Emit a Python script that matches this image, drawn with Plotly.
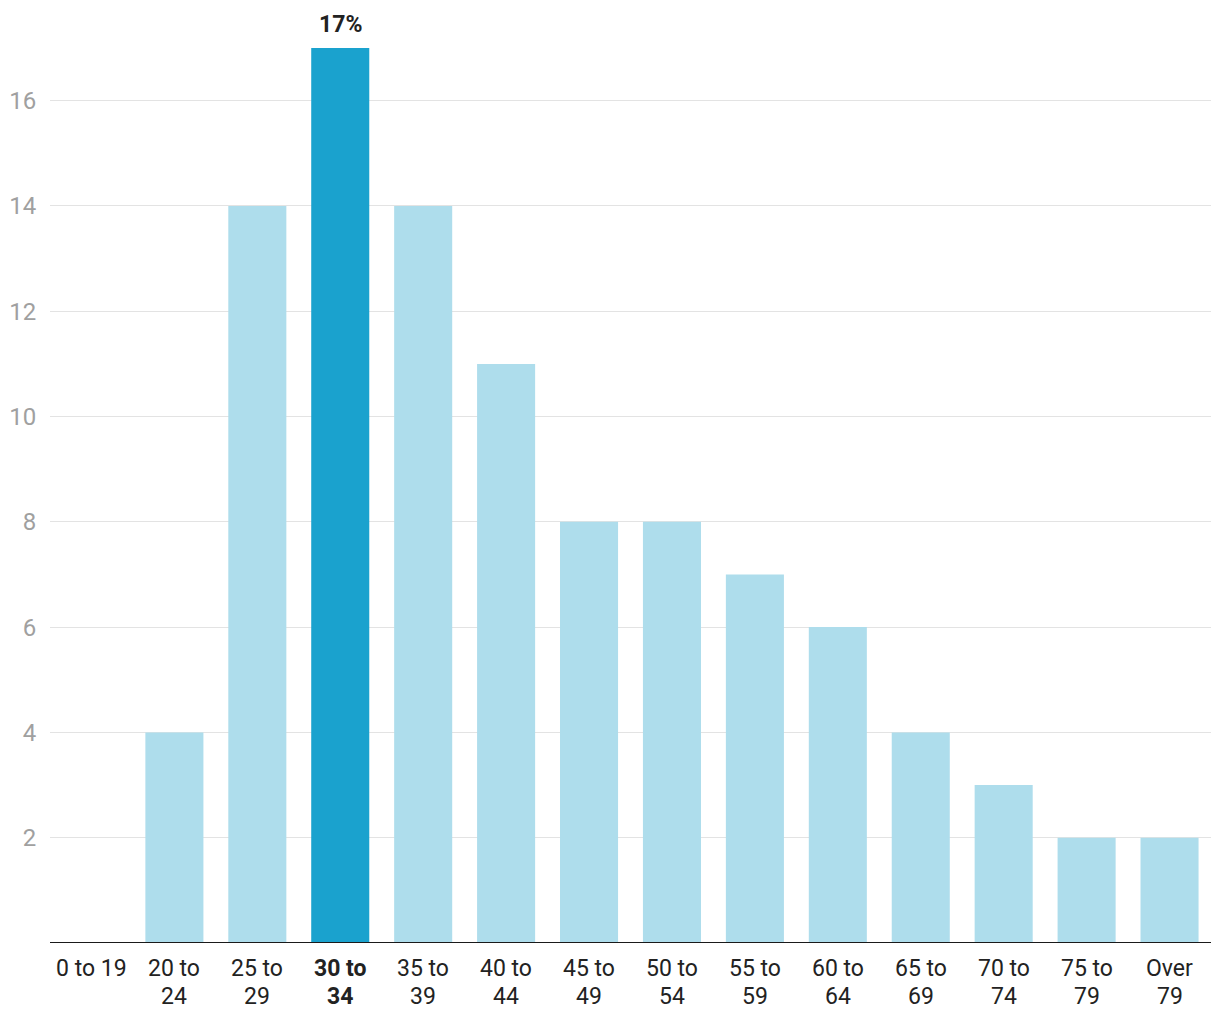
import plotly.graph_objects as go

categories = ["0 to 19", "20 to 24", "25 to 29", "30 to 34", "35 to 39", "40 to 44", "45 to 49",
              "50 to 54", "55 to 59", "60 to 64", "65 to 69", "70 to 74", "75 to 79", "Over 79"]
label_line1 = ["0 to 19", "20 to", "25 to", "30 to", "35 to", "40 to", "45 to", "50 to",
               "55 to", "60 to", "65 to", "70 to", "75 to", "Over"]
label_line2 = ["", "24", "29", "34", "39", "44", "49", "54", "59", "64", "69", "74", "79", "79"]
values = [0, 4, 14, 17, 14, 11, 8, 8, 7, 6, 4, 3, 2, 2]
highlight = "30 to 34"

LIGHT = "#AEDDEC"
DARK = "#1AA2CE"
colors = [DARK if c == highlight else LIGHT for c in categories]

fig = go.Figure()
fig.add_trace(go.Bar(x=categories, y=values, marker=dict(color=colors, line=dict(width=0)),
                     hoverinfo="skip"))

peak = max(values)
fig.add_annotation(x=categories[values.index(peak)], y=peak, text="<b>%d%%</b>" % peak,
                   showarrow=False, yanchor="bottom", yshift=8,
                   font=dict(family="Roboto", size=23, color="#222222"))

# category labels (two lines, tight line spacing)
for cat, l1, l2 in zip(categories, label_line1, label_line2):
    bold = cat == highlight
    for txt, shift in ((l1, -25), (l2, -53)):
        if not txt:
            continue
        fig.add_annotation(x=cat, xref="x", y=0, yref="paper", yshift=shift,
                           text=("<b>%s</b>" % txt) if bold else txt,
                           showarrow=False, yanchor="middle", xanchor="center",
                           font=dict(family="Roboto", size=23, color="#222222"))

# baseline (x axis line) spanning the plot area only
fig.add_shape(type="line", xref="paper", x0=0, x1=1, yref="y", y0=0, y1=0,
              line=dict(color="#1a1a1a", width=2), layer="above")

fig.update_layout(
    width=1220, height=1020,
    margin=dict(l=50, r=9, t=48, b=77),
    paper_bgcolor="white", plot_bgcolor="white",
    bargap=0.3, showlegend=False,
    font=dict(family="Roboto", size=23, color="#222222"),
    xaxis=dict(range=[-0.5, len(categories) - 0.5], autorange=False,
               showticklabels=False, showline=False,
               showgrid=False, ticks="", fixedrange=True),
    yaxis=dict(range=[0, 17], autorange=False, tickvals=[2, 4, 6, 8, 10, 12, 14, 16],
               showgrid=True, gridcolor="#e3e3e3", gridwidth=1, zeroline=False, showline=False,
               tickfont=dict(family="Roboto", size=24, color="#a0a0a0"),
               ticks="outside", ticklen=8, tickcolor="rgba(0,0,0,0)",
               fixedrange=True, automargin=False),
)

fig.write_html("out.html")
